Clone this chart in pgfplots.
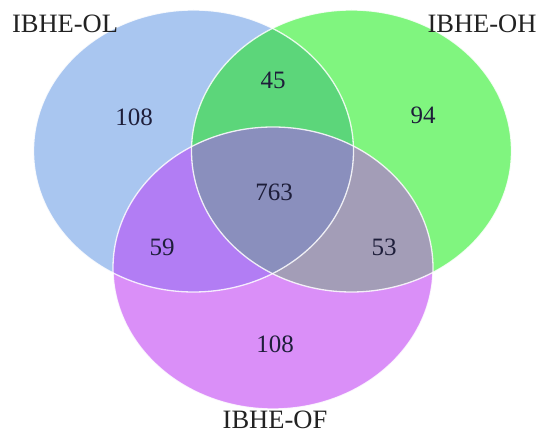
\documentclass[border=0pt]{standalone}
\usepackage{pgfplots}
\pgfplotsset{compat=1.18}
\usepackage{fontspec}
\setmainfont{Liberation Serif}
\definecolor{cA}{HTML}{A9C6F0}
\definecolor{cB}{HTML}{80F57F}
\definecolor{cC}{HTML}{DA8FF8}
\definecolor{cAB}{HTML}{5CD67A}
\definecolor{cAC}{HTML}{B27DF4}
\definecolor{cBC}{HTML}{A39DB7}
\definecolor{cABC}{HTML}{8A8FBD}
\definecolor{numtxt}{HTML}{1E1E3A}
\definecolor{labtxt}{HTML}{222222}
\begin{document}
\begin{tikzpicture}
\begin{axis}[
  width=539pt, height=435pt, scale only axis,
  xmin=0, xmax=539, ymin=0, ymax=435,
  y dir=reverse, hide axis, clip=false,
]
% sets: A = IBHE-OL, B = IBHE-OH, C = IBHE-OF
\def\elA{(axis cs:193.5,151) ellipse [x radius=160, y radius=141]}
\def\elB{(axis cs:351.5,151) ellipse [x radius=160, y radius=141]}
\def\elC{(axis cs:273,268) ellipse [x radius=160, y radius=141]}
\fill[cA] \elA;
\fill[cB] \elB;
\fill[cC] \elC;
\begin{scope}\clip \elA; \fill[cAB] \elB; \end{scope}
\begin{scope}\clip \elA; \fill[cAC] \elC; \end{scope}
\begin{scope}\clip \elB; \fill[cBC] \elC; \end{scope}
\begin{scope}\clip \elA; \clip \elB; \fill[cABC] \elC; \end{scope}
\draw[white, line width=1.3pt, opacity=0.85] \elA;
\draw[white, line width=1.3pt, opacity=0.85] \elB;
\draw[white, line width=1.3pt, opacity=0.85] \elC;
% region counts
\addplot[only marks, mark=none, nodes near coords, point meta=explicit symbolic,
  every node near coord/.style={anchor=center, inner sep=0pt, text=numtxt, font=\fontsize{25}{28}\selectfont}]
  coordinates {
    (134,117) [108]
    (273,80) [45]
    (423,115) [94]
    (274,192) [763]
    (162,247) [59]
    (384,247) [53]
    (275,344) [108]
  };
% set labels
\addplot[only marks, mark=none, nodes near coords, point meta=explicit symbolic,
  every node near coord/.style={anchor=center, inner sep=0pt, text=labtxt, font=\fontsize{26.5}{28}\selectfont}]
  coordinates {
    (65,24) [IBHE-OL]
    (482,24) [IBHE-OH]
    (275,420) [IBHE-OF]
  };
\end{axis}
\pgfresetboundingbox
\path (current axis.south west) rectangle (current axis.north east);
\end{tikzpicture}
\end{document}
